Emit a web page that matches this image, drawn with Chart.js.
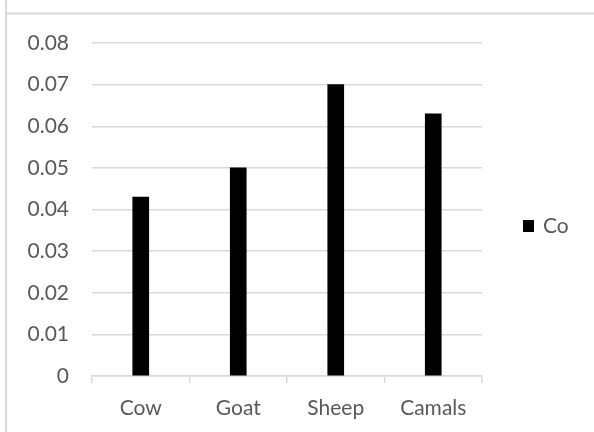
<!DOCTYPE html>
<html>
<head>
<meta charset="utf-8">
<script src="https://cdn.jsdelivr.net/npm/chart.js@4.4.0/dist/chart.umd.min.js"></script>
<style>
  html, body { margin: 0; padding: 0; background: #ffffff; }
  #wrap { position: relative; width: 594px; height: 432px; }
</style>
</head>
<body>
<div id="wrap"><canvas id="c" width="594" height="432"></canvas></div>
<script>
const categories = ['Cow', 'Goat', 'Sheep', 'Camals'];
const seriesName = 'Co';
const seriesValues = [0.043, 0.05, 0.07, 0.063];
const yTicks = [0, 0.01, 0.02, 0.03, 0.04, 0.05, 0.06, 0.07, 0.08];

const FONT = 'Lato, "Open Sans", sans-serif';
const TEXT = '#595959';
const GRID = '#d9d9d9';

const framePlugin = {
  id: 'frame',
  beforeDraw(chart) {
    const ctx = chart.ctx;
    ctx.save();
    ctx.fillStyle = '#ffffff';
    ctx.fillRect(0, 0, chart.width, chart.height);
    ctx.strokeStyle = GRID;
    ctx.lineWidth = 2;
    ctx.beginPath();
    ctx.moveTo(6, 0);
    ctx.lineTo(6, chart.height);
    ctx.moveTo(6, 13.5);
    ctx.lineTo(chart.width, 13.5);
    ctx.stroke();
    ctx.restore();
  },
  afterDraw(chart) {
    const ctx = chart.ctx;
    const ds = chart.data.datasets[0];
    const area = chart.chartArea;
    const midY = area.top + 183;
    ctx.save();
    ctx.fillStyle = ds.backgroundColor;
    ctx.fillRect(area.right + 41, midY - 6, 11, 12);
    ctx.fillStyle = TEXT;
    ctx.font = '21px ' + FONT;
    ctx.textBaseline = 'middle';
    ctx.textAlign = 'left';
    ctx.fillText(ds.label, area.right + 61, midY);
    ctx.restore();
  }
};

new Chart(document.getElementById('c'), {
  type: 'bar',
  data: {
    labels: categories,
    datasets: [{
      label: seriesName,
      data: seriesValues,
      backgroundColor: '#000000',
      borderWidth: 0,
      barThickness: 16
    }]
  },
  options: {
    responsive: false,
    animation: false,
    devicePixelRatio: 1,
    layout: { padding: { left: 0, top: 43, right: 112, bottom: 0 } },
    plugins: {
      legend: { display: false },
      tooltip: { enabled: false }
    },
    scales: {
      x: {
        afterFit(scale) { scale.height = 56; },
        grid: {
          drawOnChartArea: false,
          drawTicks: true,
          tickLength: 7,
          color: GRID,
          lineWidth: 1.5,
          offset: true
        },
        border: { display: true, color: GRID, width: 1.5 },
        ticks: {
          color: TEXT,
          font: { family: FONT, size: 21 },
          padding: 13,
          maxRotation: 0
        }
      },
      y: {
        min: 0,
        max: 0.08,
        afterFit(scale) { scale.width = 92; },
        afterBuildTicks(scale) { scale.ticks = yTicks.map(v => ({ value: v })); },
        grid: {
          drawTicks: false,
          color: GRID,
          lineWidth: 1.5
        },
        border: { display: false },
        ticks: {
          color: TEXT,
          font: { family: FONT, size: 21 },
          padding: 23,
          callback: v => (v === 0 ? '0' : v.toFixed(2))
        }
      }
    }
  },
  plugins: [framePlugin]
});
</script>
</body>
</html>
